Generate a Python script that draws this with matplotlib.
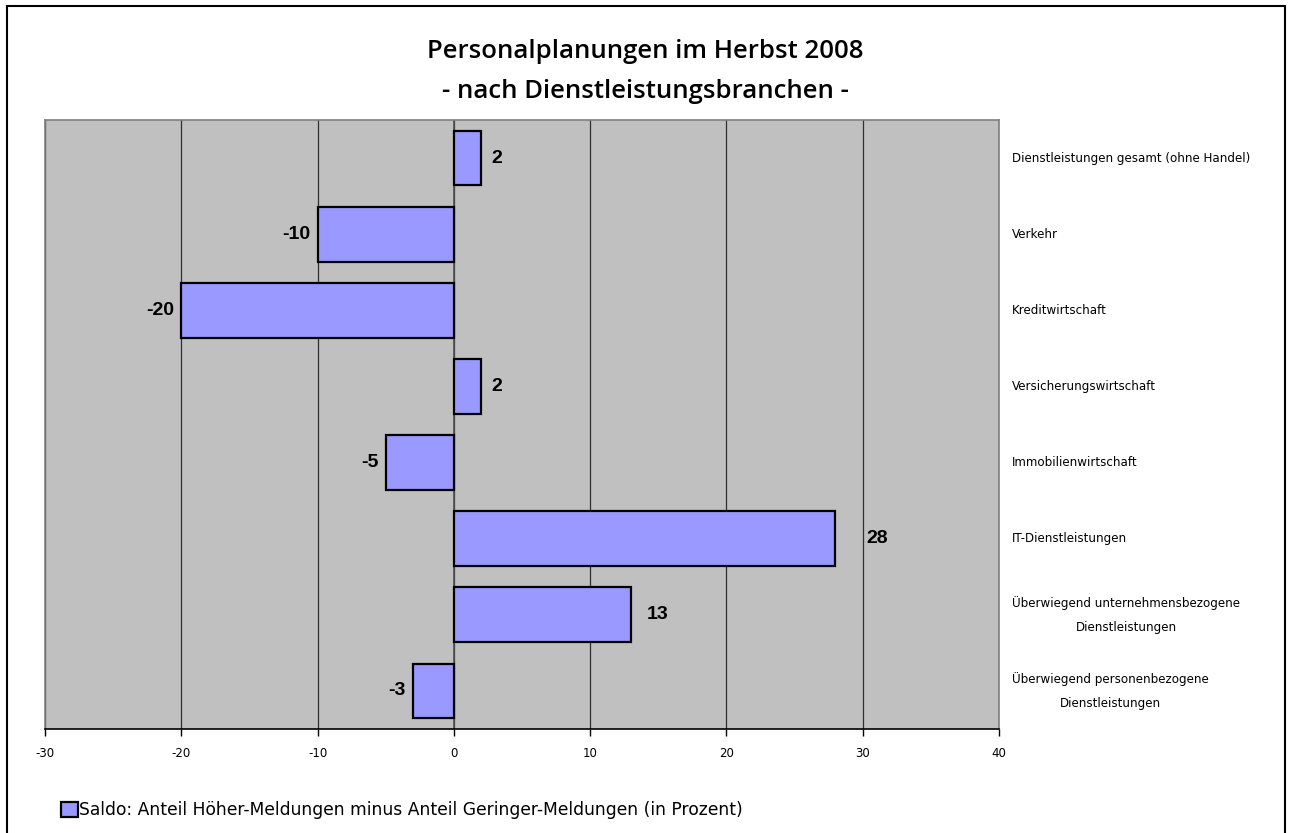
import matplotlib.pyplot as plt
from matplotlib.patches import Rectangle

# data
categories = [
    'Dienstleistungen gesamt (ohne Handel)',
    'Verkehr',
    'Kreditwirtschaft',
    'Versicherungswirtschaft',
    'Immobilienwirtschaft',
    'IT-Dienstleistungen',
    'Überwiegend unternehmensbezogene\nDienstleistungen',
    'Überwiegend personenbezogene\nDienstleistungen',
]
values = [2, -10, -20, 2, -5, 28, 13, -3]
xticks = [-30, -20, -10, 0, 10, 20, 30, 40]
legend_label = 'Saldo: Anteil Höher-Meldungen minus Anteil Geringer-Meldungen (in Prozent)'

fig = plt.figure(figsize=(12.91, 8.33), dpi=100)
W, H = 1291, 833

# outer frame (bottom edge runs off the picture)
fig.add_artist(Rectangle((7 / W, -0.01), 1278 / W, 1.01 - 6 / H, transform=fig.transFigure,
                         fill=False, edgecolor='black', linewidth=1.5))

ax = fig.add_axes([45 / W, 1 - 729 / H, (999 - 45) / W, (729 - 120) / H])
ax.set_facecolor('#c0c0c0')
ax.set_xlim(-30, 40)
ax.set_ylim(len(categories) - 0.5, -0.5)

ax.set_axisbelow(True)
ax.xaxis.grid(True, color='#303030', linewidth=0.9)
ax.set_xticks(xticks)
ax.set_xticklabels([str(t) for t in xticks], fontsize=8.5)
ax.tick_params(axis='x', direction='out', length=5, width=1, pad=8)
ax.set_yticks([])

for s in ['top', 'right', 'left']:
    ax.spines[s].set_color('#808080')
    ax.spines[s].set_linewidth(1.2)
ax.spines['bottom'].set_color('black')
ax.spines['bottom'].set_linewidth(1.2)

ypos = list(range(len(categories)))
ax.barh(ypos, values, height=0.72, color='#9999ff', edgecolor='black', linewidth=1.6,
        label=legend_label, zorder=3)
ax.axvline(0, color='#505050', linewidth=1.2, zorder=2)

for y, v in zip(ypos, values):
    if v >= 0:
        ax.text(v * 1.073 + 1.03, y, str(v), ha='center', va='center',
                fontsize=14, fontweight='bold', family='Liberation Sans', zorder=4)
    else:
        ax.text(v - 0.55, y, str(v), ha='right', va='center',
                fontsize=14, fontweight='bold', family='Liberation Sans', zorder=4)

# category labels on the right side
for y, c in zip(ypos, categories):
    ax.text(1.014, y, c, transform=ax.get_yaxis_transform(), ha='left', va='center',
            multialignment='center', fontsize=8.6, linespacing=2.1)

fig.text(0.5, 1 - 52 / H, 'Personalplanungen im Herbst 2008', ha='center', va='center',
         fontsize=18.5, fontweight='semibold', family=['Open Sans', 'DejaVu Sans'])
fig.text(0.5, 1 - 92 / H, '- nach Dienstleistungsbranchen -', ha='center', va='center',
         fontsize=18.5, fontweight='semibold', family=['Open Sans', 'DejaVu Sans'])

fig.legend(loc='center left', bbox_to_anchor=(46 / W, 1 - 810 / H), frameon=False,
           handlelength=1.0, handleheight=1.0, handletextpad=0.05,
           prop={'family': ['DejaVu Sans'], 'size': 12.3})

fig.savefig('out.png', dpi=100)
